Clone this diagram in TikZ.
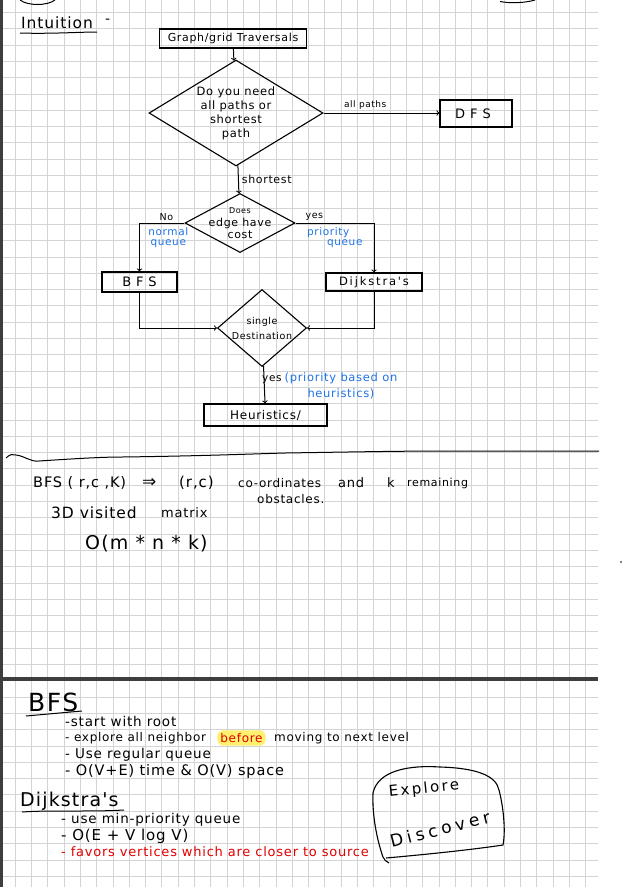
\documentclass[tikz,border=0pt]{standalone}
\usepackage{fontspec}
\setmainfont{DejaVu Sans}
\newfontfamily\hand[LetterSpace=6]{DejaVu Sans}
\newfontfamily\handweit[LetterSpace=16]{DejaVu Sans}
\newfontfamily\handluft[LetterSpace=24]{DejaVu Sans}
\usetikzlibrary{arrows,shapes.geometric,positioning}
\definecolor{blaustift}{RGB}{30,115,230}
\definecolor{rotstift}{RGB}{225,0,0}
\definecolor{leuchtgelb}{RGB}{255,240,110}
\definecolor{gitter}{RGB}{212,212,212}
\definecolor{balken}{RGB}{62,62,62}

\begin{document}
\begin{tikzpicture}[x=1pt,y=-1pt,
    kasten/.style={
      draw,
      rectangle,
      line width=1.2pt,
      inner sep=0pt},
    raute/.style={
      draw,
      diamond,
      line width=1.1pt,
      inner sep=-10pt,
      align=center},
    notiz/.style={inner sep=0pt, anchor=west},
    blau/.style={text=blaustift, inner sep=0pt, align=center, font=\hand\fontsize{10.5}{10}\selectfont},
    pfeil/.style={->, >=to, line width=1pt}
    ]

  \useasboundingbox (0,0) rectangle (636,887);
  \fill[white] (0,0) rectangle (636,887);

  % squared paper
  \foreach \i in {1,...,36}
    \draw[gitter, line width=0.6pt] ({-1.3+16.3*\i},0) -- ({-1.3+16.3*\i},887);
  \foreach \j in {0,...,53}
    \draw[gitter, line width=0.6pt] (3,{12.3+16.3*\j}) -- (598,{12.3+16.3*\j});
  \fill[balken] (0,0) rectangle (3,887);
  \fill[balken] (0,676.5) rectangle (598,681);

  % leftovers from the page above
  \draw[line width=1pt] (20,0) .. controls (28,6) and (47,6) .. (55,0);
  \draw[line width=1pt] (500,1.5) .. controls (510,3.5) and (525,3) .. (535,0);

  \node at (21,23) (intuition) [notiz, font=\hand\fontsize{15.5}{17}\selectfont] {Intuition};
  \draw[line width=1pt] (20,33) .. controls (50,34) and (80,32) .. (97,32);
  \node at (105,21) (strich) [notiz, font=\fontsize{14}{16}\selectfont] {-};

  % flow chart
  \node at (233,38.5) (graph) [kasten, minimum width=147pt, minimum height=19pt, font=\hand\fontsize{11}{12}\selectfont] {Graph/grid Traversals};
  \node at (236,113) (frage1) [raute, minimum width=174pt, minimum height=106pt, font=\hand\fontsize{11.5}{13}\selectfont] {Do you need\\[1pt]all paths or\\[1pt]shortest\\[1pt]path};
  \node at (476,113.5) (dfs) [kasten, minimum width=72pt, minimum height=27pt, font=\hand\fontsize{13}{14}\selectfont] {D F S\hspace*{6pt}};
  \node at (240,223) (frage2) [raute, minimum width=110pt, minimum height=59pt, font=\hand\fontsize{11}{12}\selectfont] {{\fontsize{8}{8}\selectfont Does}\\[1pt]edge have\\[0pt]cost};
  \node at (139.5,282) (bfs) [kasten, minimum width=75pt, minimum height=20pt, font=\hand\fontsize{13}{14}\selectfont] {B F S};
  \node at (374,282) (dijkstra) [kasten, minimum width=96pt, minimum height=18pt, font=\handweit\fontsize{11.5}{13}\selectfont] {Dijkstra's};
  \node at (262,328) (frage3) [raute, minimum width=89pt, minimum height=77pt, font=\hand\fontsize{9.5}{10}\selectfont] {single\\[5pt]Destination};
  \node at (265.5,415) (heuristik) [kasten, minimum width=123pt, minimum height=22pt, font=\hand\fontsize{12}{13}\selectfont] {Heuristics/};

  \draw[pfeil] (graph) -- (frage1);
  \draw[pfeil] (frage1.east) -- (frage1.east -| dfs.west)
    node[pos=0.36, above=3pt, inner sep=0pt, font=\hand\fontsize{9}{10}\selectfont] {all paths};
  \draw[pfeil] (frage1) -- (frage2)
    node[midway, right=3pt, inner sep=0pt, font=\hand\fontsize{11}{12}\selectfont] {shortest};
  \draw[pfeil] (frage2.west) -| (bfs.north)
    node[pos=0.2, above=2pt, inner sep=0pt, font=\hand\fontsize{9.5}{10}\selectfont] {No}
    node[pos=0.18, below=4pt, blau] {normal\\queue};
  \draw[pfeil] (frage2.east) -| (dijkstra.north)
    node[pos=0.12, above=2pt, inner sep=0pt, font=\hand\fontsize{9.5}{10}\selectfont] {yes}
    node[pos=0.25, below=4pt, blau, align=left] {priority\\\hspace*{20pt}queue};
  \draw[pfeil] (bfs.south) |- (frage3.west);
  \draw[pfeil] (dijkstra.south) |- (frage3.east);
  \draw[pfeil] (frage3) -- (heuristik);
  \node at (262,380) (ja) [notiz, font=\hand\fontsize{10.5}{12}\selectfont] {yes};
  \node at (341,386) (hinweis) [blau, font=\hand\fontsize{11.5}{16}\selectfont] {(priority based on\\heuristics)};

  % wavy separator
  \draw[line width=1pt] (6,458) .. controls (10,454) and (13,454) .. (16,455)
    .. controls (25,456) and (30,462) .. (39,461)
    .. controls (70,459) and (100,457) .. (122,457)
    .. controls (200,456) and (250,454) .. (285,453)
    .. controls (350,452) and (400,451) .. (448,451)
    .. controls (500,451) and (560,451) .. (599,451);

  \node at (33,483) (zustand) [notiz, font=\hand\fontsize{14.5}{16}\selectfont] {BFS ( r,c ,K)\hspace{16pt}{\fontsize{17}{16}\selectfont ⇒}};
  \node at (179,483) (zelle) [notiz, font=\hand\fontsize{15}{16}\selectfont] {(r,c)};
  \node at (238,483) (koord) [notiz, font=\hand\fontsize{12}{14}\selectfont] {co-ordinates};
  \node at (338,483) (und) [notiz, font=\hand\fontsize{13}{14}\selectfont] {and};
  \node at (387,483) (kvar) [notiz, font=\hand\fontsize{13}{14}\selectfont] {k};
  \node at (407,483) (rest) [notiz, font=\hand\fontsize{11}{14}\selectfont] {remaining};
  \node at (257,499) (hindernis) [notiz, font=\hand\fontsize{12}{14}\selectfont] {obstacles.};
  \node at (51,513) (besucht) [notiz, font=\hand\fontsize{15.5}{17}\selectfont] {3D visited};
  \node at (161,513) (matrix) [notiz, font=\hand\fontsize{13}{16}\selectfont] {matrix};
  \node at (85,544) (aufwand) [notiz, font=\hand\fontsize{19}{21}\selectfont] {O(m * n * k)};
  \fill (621,562) circle (0.8);

  % notes below the bar
  \node at (28,702) (bfskopf) [notiz, font=\hand\fontsize{25}{27}\selectfont] {BFS};
  \draw[line width=1pt] (26,716) -- (82,711);
  \node at (65,721) (bfs1) [notiz, font=\hand\fontsize{13.5}{14}\selectfont] {-start with root};
  \node at (65,738) (bfs2) [notiz, font=\hand\fontsize{12}{14}\selectfont] {- explore all neighbor};
  \node at (241.5,738) (vorher) [fill=leuchtgelb, rounded corners=6pt, inner xsep=3pt, inner ysep=3pt, text=rotstift, font=\hand\fontsize{12}{14}\selectfont] {before};
  \node at (274,738) (bfs2b) [notiz, font=\hand\fontsize{12}{14}\selectfont] {moving to next level};
  \node at (65,755) (bfs3) [notiz, font=\hand\fontsize{13.5}{14}\selectfont] {- Use regular queue};
  \node at (65,771) (bfs4) [notiz, font=\hand\fontsize{14.5}{16}\selectfont] {- O(V+E) time \& O(V) space};

  \node at (20,801) (dijkopf) [notiz, font=\hand\fontsize{19}{21}\selectfont] {Dijkstra's};
  \draw[line width=1pt] (22,812) .. controls (50,810) and (90,812) .. (124,810);
  \node at (61,820) (dij1) [notiz, font=\hand\fontsize{13.5}{14}\selectfont] {- use min-priority queue};
  \node at (61,836) (dij2) [notiz, font=\hand\fontsize{15}{16}\selectfont] {- O(E + V log V)};
  \node at (61,852) (dij3) [notiz, text=rotstift, font=\hand\fontsize{13}{14}\selectfont] {- favors vertices which are closer to source};

  % speech bubble
  \draw[line width=1.1pt] (389,863) .. controls (386,861) and (384,860) .. (383,857)
    .. controls (377,840) and (372,815) .. (373,793)
    .. controls (378,770) and (410,765) .. (440,767)
    .. controls (475,768) and (496,775) .. (499,790)
    .. controls (503,805) and (506,830) .. (503,845)
    .. controls (470,850) and (420,855) .. (386,858);
  \node at (424,789) (erkunden) [rotate=6, inner sep=0pt, font=\handweit\fontsize{15}{17}\selectfont] {Explore};
  \node at (440,829) (entdecken) [rotate=14, inner sep=0pt, font=\handluft\fontsize{17}{20}\selectfont] {Discover};

\end{tikzpicture}
\end{document}
